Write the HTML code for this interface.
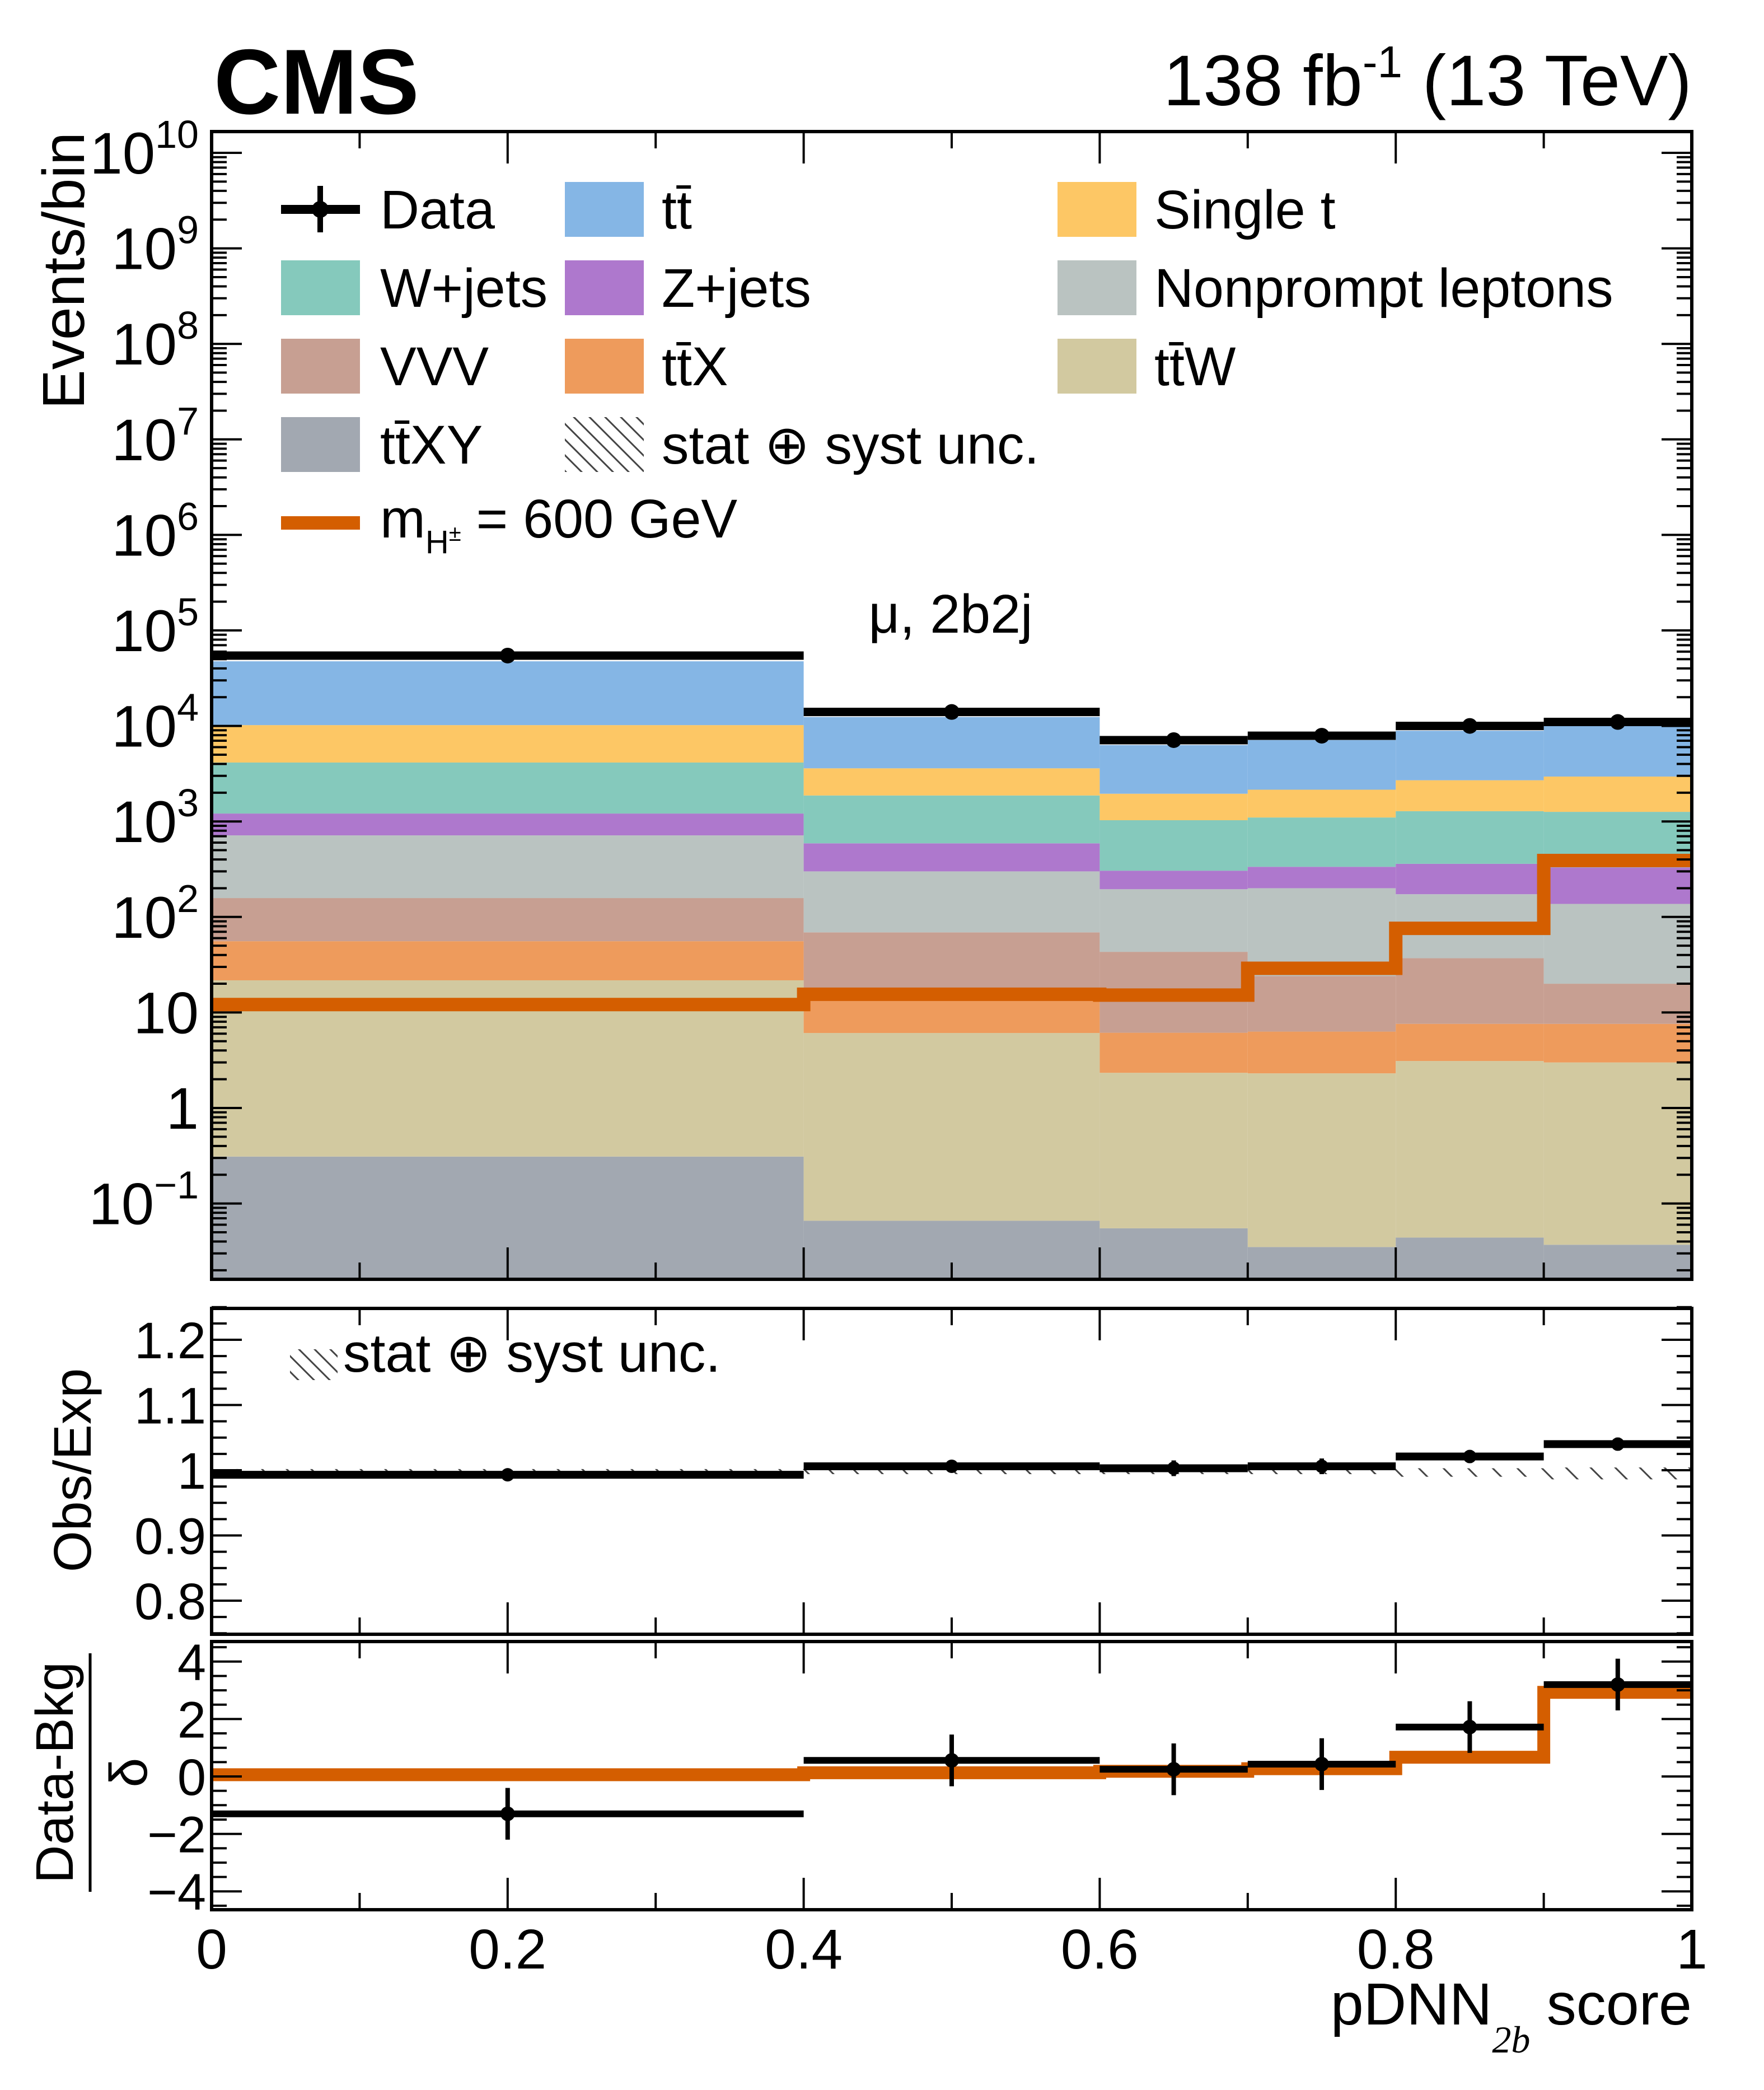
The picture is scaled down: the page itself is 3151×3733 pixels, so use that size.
<!DOCTYPE html>
<html><head><meta charset="utf-8"><style>
html,body{margin:0;padding:0;background:#fff;}
svg{display:block;font-family:"Liberation Sans",sans-serif;}
</style></head><body>
<svg id="c" width="3151" height="3733" viewBox="0 0 3151 3733" xmlns="http://www.w3.org/2000/svg">
<defs>
<pattern id="hatch" patternUnits="userSpaceOnUse" width="28" height="28">
<path d="M0,0 L28,28 M-14,14 L14,42 M14,-14 L42,14" stroke="#444" stroke-width="3"/>
</pattern>
<pattern id="hatch2" patternUnits="userSpaceOnUse" width="44" height="44">
<path d="M0,0 L44,44 M-22,22 L22,66 M22,-22 L66,22" stroke="#444" stroke-width="3"/>
</pattern>
<clipPath id="clipMain"><rect x="378" y="235" width="2644" height="2050"/></clipPath>
<clipPath id="clipRatio"><rect x="378" y="2337" width="2644" height="582"/></clipPath>
<clipPath id="clipSig"><rect x="378" y="2932" width="2644" height="479"/></clipPath>
</defs>
<text x="382" y="203" font-size="165" font-weight="bold">CMS</text>
<text x="3022" y="188" font-size="128" text-anchor="end">138 fb<tspan dy="-50" font-size="80">-1</tspan><tspan dy="50"> (13 TeV)</tspan></text>
<g id="main"></g>
<g id="ratio"></g>
<g id="sig"></g>
<g id="legend">
 <g><line x1="502" y1="374" x2="643" y2="374" stroke="#000" stroke-width="16"/><line x1="572" y1="332" x2="572" y2="415" stroke="#000" stroke-width="10"/><circle cx="572" cy="374" r="15"/><text x="679" y="408" font-size="97">Data</text></g>
 <g><rect x="1009" y="325" width="141" height="98" fill="#85b6e5"/><text x="1182" y="408" font-size="97">tt̄</text></g>
 <g><rect x="1889" y="325" width="141" height="98" fill="#fdc765"/><text x="2062" y="408" font-size="97">Single t</text></g>
 <g><rect x="502" y="465" width="141" height="98" fill="#85c9bc"/><text x="679" y="548" font-size="97">W+jets</text></g>
 <g><rect x="1009" y="465" width="141" height="98" fill="#ae78cd"/><text x="1182" y="548" font-size="97">Z+jets</text></g>
 <g><rect x="1889" y="465" width="141" height="98" fill="#bac3c1"/><text x="2062" y="548" font-size="97">Nonprompt leptons</text></g>
 <g><rect x="502" y="605" width="141" height="98" fill="#c79f92"/><text x="679" y="688" font-size="97">VVV</text></g>
 <g><rect x="1009" y="605" width="141" height="98" fill="#ee9b5c"/><text x="1182" y="688" font-size="97">tt̄X</text></g>
 <g><rect x="1889" y="605" width="141" height="98" fill="#d2c9a0"/><text x="2062" y="688" font-size="97">tt̄W</text></g>
 <g><rect x="502" y="745" width="141" height="98" fill="#a2a8b1"/><text x="679" y="828" font-size="97">tt̄XY</text></g>
 <g><rect x="1009" y="745" width="141" height="98" fill="url(#hatch)"/><text x="1182" y="828" font-size="97">stat ⊕ syst unc.</text></g>
 <g><rect x="502" y="922" width="141" height="24" fill="#d45e00"/><text x="679" y="960" font-size="97">m<tspan dy="28" font-size="58">H</tspan><tspan dy="-22" font-size="40">±</tspan><tspan dy="-6" font-size="97"> = 600 GeV</tspan></text></g>
</g>
<text x="1698" y="1130" font-size="97" text-anchor="middle">μ, 2b2j</text>
<text transform="translate(150,236) rotate(-90)" font-size="106" text-anchor="end">Events/bin</text>
<text transform="translate(162,2626) rotate(-90)" font-size="95" text-anchor="middle">Obs/Exp</text>
<g>
<text transform="translate(130,3166) rotate(-90)" font-size="95" text-anchor="middle">Data-Bkg</text>
<line x1="161" y1="2953" x2="161" y2="3379" stroke="#000" stroke-width="5"/>
<text transform="translate(262,3166) rotate(-90)" font-size="95" text-anchor="middle">δ</text>
</g>
<g><rect x="518" y="2410" width="85" height="55" fill="url(#hatch)"/><text x="613" y="2450" font-size="97">stat ⊕ syst unc.</text></g>
<text x="3022" y="3616" font-size="106" text-anchor="end">pDNN<tspan dy="50" font-size="68" font-style="italic" font-family="Liberation Serif, serif">2b</tspan><tspan dy="-50"> score</tspan></text>
</svg>
<script>
const edges=[0,0.4,0.6,0.7,0.8,0.9,1];
const procNames=["ttxy","ttw","ttx","vvv","nonprompt","zjets","wjets","single-t","ttbar"];
const procColors=["#a2a8b1","#d2c9a0","#ee9b5c","#c79f92","#bac3c1","#ae78cd","#85c9bc","#fdc765","#85b6e5"];
const ttxy=[0.31,0.066,0.055,0.035,0.044,0.037];
const ttw=[21.4,6.03,2.28,2.27,3.06,2.96];
const ttx=[34,7.4,3.8,4.0,4.5,4.6];
const vvv=[102,55.5,37,17.7,29.4,12.4];
const nonprompt=[557,231,152,176,136,117];
const zjets=[495,290,110,135,187,193];
const wjets=[2930,1280,725,765,920,930];
const singlet=[6060,1730,920,1050,1420,1690];
const ttbar=[37300,8800,4350,4950,6200,7050];
const dataY=[54500,14000,7100,7900,10000,11000];
const signalY=[12.1,15.5,15.2,29,76,390];
const ratioY=[0.993,1.006,1.003,1.006,1.021,1.040];
const ratioErr=[0.003,0.008,0.012,0.012,0.010,0.010];
const uncBand=[0.006,0.006,0.006,0.006,0.010,0.014];
const sigData=[-1.30,0.56,0.25,0.43,1.72,3.2];
const sigErr=[0.9,0.9,0.9,0.9,0.9,0.9];
const sigSignal=[0.06,0.13,0.18,0.27,0.67,2.93];
const xTicks=[0,0.2,0.4,0.6,0.8,1];
const xTickLabels=["0","0.2","0.4","0.6","0.8","1"];
const ratioTicks=[0.8,0.9,1,1.1,1.2];
const ratioLabels=["0.8","0.9","1","1.1","1.2"];
const sigTicks=[-4,-2,0,2,4];
const sigLabels=["−4","−2","0","2","4"];
const decades=[-1,0,1,2,3,4,5,6,7,8,9,10];

const NS="http://www.w3.org/2000/svg";
const X0=378,X1=3022;
const MT=235,MB=2285,RT=2337,RB=2919,ST=2932,SB=3411;
const xs=v=>X0+(X1-X0)*v;
const ym=v=>1979-170.6*Math.log10(v);
const yr=v=>2626-1165*(v-1);
const ys=v=>3173-51.3*v;
function mk(tag,attrs,parent){const e=document.createElementNS(NS,tag);for(const k in attrs)e.setAttribute(k,attrs[k]);parent.appendChild(e);return e;}
const main=document.getElementById('main'),ratio=document.getElementById('ratio'),sig=document.getElementById('sig');

const procs=[ttxy,ttw,ttx,vvv,nonprompt,zjets,wjets,singlet,ttbar];
const gStack=mk('g',{'clip-path':'url(#clipMain)'},main);
for(let b=0;b<6;b++){
  let cum=0;
  for(let p=0;p<procs.length;p++){
    const lo=cum;cum+=procs[p][b];
    const yTop=ym(cum),yBot=lo>0?ym(lo):MB;
    const r=mk('rect',{x:xs(edges[b]),y:yTop,width:xs(edges[b+1])-xs(edges[b]),height:Math.max(0,yBot-yTop),fill:procColors[p]},gStack);
    
    
  }
}
function stepPath(vals,yf){let d='';for(let b=0;b<vals.length;b++){const y=yf(vals[b]);d+=(b===0?'M'+xs(edges[0])+','+y:'V'+y)+'H'+xs(edges[b+1]);}return d;}
const sp=mk('path',{d:stepPath(signalY,ym),fill:'none',stroke:'#d45e00','stroke-width':24,'clip-path':'url(#clipMain)'},main);


function dataPts(vals,errs,yf,parent,lw,r,name){
  for(let b=0;b<vals.length;b++){
    const g=mk('g',{},parent);
    
    
    const y=yf(vals[b]),cx=xs((edges[b]+edges[b+1])/2);
    mk('line',{x1:xs(edges[b]),x2:xs(edges[b+1]),y1:y,y2:y,stroke:'#000','stroke-width':lw},g);
    const e=errs[b];
    mk('line',{x1:cx,x2:cx,y1:yf(vals[b]+e),y2:yf(vals[b]-e),stroke:'#000','stroke-width':8},g);
    mk('circle',{cx:cx,cy:y,r:r,fill:'#000'},g);
  }
}
dataPts(dataY,dataY.map(v=>Math.sqrt(v)),ym,main,15,14,'data-point');

const gu=mk('g',{'clip-path':'url(#clipRatio)'},ratio);
for(let b=0;b<6;b++){
  const u=uncBand[b];
  const r=mk('rect',{x:xs(edges[b]),y:yr(1+u*0.3),width:xs(edges[b+1])-xs(edges[b]),height:yr(1-u)-yr(1+u*0.3),fill:'url(#hatch2)'},gu);
  
  
}
dataPts(ratioY,ratioErr,yr,ratio,14,12,'ratio-point');

const ss=mk('path',{d:stepPath(sigSignal,ys),fill:'none',stroke:'#d45e00','stroke-width':23,'clip-path':'url(#clipSig)'},sig);


dataPts(sigData,sigErr,ys,sig,12,13,'significance-point');

function frame(top,bot,parent,name){
  const f=mk('rect',{x:X0,y:top,width:X1-X0,height:bot-top,fill:'none',stroke:'#000','stroke-width':6},parent);
  
  
  for(let i=0;i<=10;i++){const x=xs(i/10),L=(i%2===0)?57:30;
    mk('line',{x1:x,x2:x,y1:top,y2:top+L,stroke:'#000','stroke-width':4},parent);
    mk('line',{x1:x,x2:x,y1:bot,y2:bot-L,stroke:'#000','stroke-width':4},parent);}
}
function ytick(y,L,parent){mk('line',{x1:X0,x2:X0+L,y1:y,y2:y,stroke:'#000','stroke-width':4},parent);mk('line',{x1:X1,x2:X1-L,y1:y,y2:y,stroke:'#000','stroke-width':4},parent);}
const gA=mk('g',{},main);
frame(MT,MB,gA,'main-frame');
for(let d=-2;d<=10;d++){for(let m=1;m<=9;m++){const v=m*Math.pow(10,d);const y=ym(v);if(y<MT||y>MB)continue;ytick(y,m===1?54:27,gA);}}
decades.forEach(d=>{
  const y=ym(Math.pow(10,d));
  const t=mk('text',{x:355,y:y+37,'font-size':105,'text-anchor':'end'},gA);
  
  
  if(d===0)t.textContent='1';else if(d===1)t.textContent='10';
  else{t.textContent='10';const s=mk('tspan',{dy:-46,'font-size':70},t);s.textContent=d<0?'−1':String(d);}
});
const gR=mk('g',{},ratio);
frame(RT,RB,gR,'ratio-frame');
for(let v=0.75;v<=1.2501;v+=0.025){ytick(yr(v),Math.abs(v*10-Math.round(v*10))<0.01?54:27,gR);}
ratioTicks.forEach((v,i)=>{const t=mk('text',{x:368,y:yr(v)+33,'font-size':92,'text-anchor':'end'},gR);t.textContent=ratioLabels[i];

});
const gS=mk('g',{},sig);
frame(ST,SB,gS,'significance-frame');
for(let v=-4.5;v<=4.6;v+=0.5){const y=ys(v);if(y<ST||y>SB)continue;ytick(y,Math.abs(v%2)<0.01?54:27,gS);}
sigTicks.forEach((v,i)=>{const t=mk('text',{x:368,y:ys(v)+33,'font-size':92,'text-anchor':'end'},gS);t.textContent=sigLabels[i];

});
xTicks.forEach((v,i)=>{const t=mk('text',{x:xs(v),y:3516,'font-size':100,'text-anchor':'middle'},gS);t.textContent=xTickLabels[i];

});
</script>
</body></html>
